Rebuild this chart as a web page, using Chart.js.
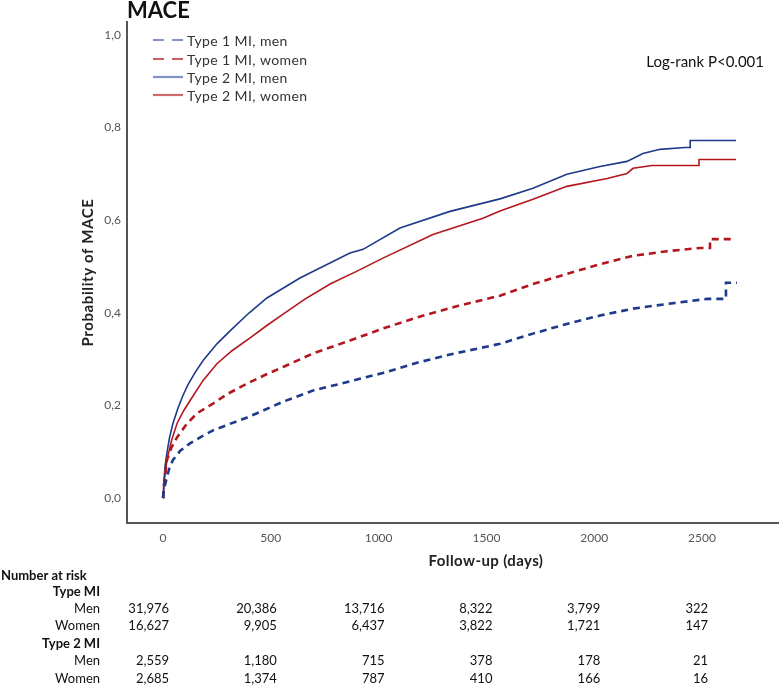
<!DOCTYPE html>
<html>
<head>
<meta charset="utf-8">
<script src="https://cdn.jsdelivr.net/npm/chart.js@4"></script>
<style>
  html, body { margin: 0; padding: 0; background: #fff; }
  #wrap { width: 779px; height: 687px; position: relative; }
</style>
</head>
<body>
<div id="wrap"><canvas id="c" width="779" height="687"></canvas></div>
<script>
// ---------------- DATA ----------------
const seriesLabels = ['Type 1 MI, men', 'Type 1 MI, women', 'Type 2 MI, men', 'Type 2 MI, women'];

const t1MenDays = [0, 5, 18, 30, 46, 80, 125, 180, 232, 310, 390, 470, 557, 696, 867, 1020, 1178, 1331, 1563, 1716, 1873, 2027, 2180, 2337, 2523, 2611, 2611, 2662];
const t1MenProb = [0, 0.02, 0.045, 0.065, 0.082, 0.102, 0.118, 0.133, 0.146, 0.16, 0.174, 0.19, 0.208, 0.232, 0.252, 0.27, 0.292, 0.31, 0.333, 0.355, 0.376, 0.394, 0.409, 0.419, 0.43, 0.43, 0.465, 0.465];

const t1WomenDays = [0, 5, 18, 40, 65, 110, 158, 232, 300, 390, 470, 557, 700, 867, 1020, 1178, 1370, 1563, 1716, 1873, 2027, 2180, 2337, 2491, 2537, 2537, 2639];
const t1WomenProb = [0, 0.03, 0.082, 0.11, 0.131, 0.16, 0.183, 0.204, 0.225, 0.247, 0.265, 0.283, 0.313, 0.34, 0.366, 0.39, 0.415, 0.437, 0.462, 0.484, 0.505, 0.523, 0.533, 0.54, 0.54, 0.559, 0.559];

const t2MenDays = [0, 3, 10, 18, 30, 46, 70, 93, 116, 150, 186, 250, 311, 400, 482, 635, 867, 928, 1099, 1331, 1563, 1716, 1873, 2027, 2152, 2226, 2305, 2421, 2445, 2445, 2658];
const t2MenProb = [0, 0.03, 0.07, 0.097, 0.13, 0.161, 0.195, 0.222, 0.245, 0.272, 0.297, 0.333, 0.361, 0.4, 0.432, 0.475, 0.529, 0.537, 0.583, 0.619, 0.646, 0.669, 0.699, 0.716, 0.727, 0.744, 0.753, 0.757, 0.757, 0.772, 0.772];

const t2WomenDays = [0, 5, 18, 40, 65, 95, 125, 186, 250, 320, 404, 480, 557, 660, 775, 900, 1020, 1252, 1484, 1563, 1716, 1873, 2060, 2152, 2180, 2268, 2486, 2486, 2658];
const t2WomenProb = [0, 0.035, 0.082, 0.125, 0.161, 0.188, 0.21, 0.254, 0.29, 0.318, 0.346, 0.372, 0.397, 0.43, 0.462, 0.49, 0.518, 0.569, 0.604, 0.62, 0.645, 0.673, 0.69, 0.701, 0.712, 0.718, 0.718, 0.731, 0.731];

const xTickValues = [0, 500, 1000, 1500, 2000, 2500];
const yTickValues = [0, 0.2, 0.4, 0.6, 0.8, 1.0];

const riskTimes = [0, 500, 1000, 1500, 2000, 2500];
const riskGroupLabels = ['Type MI', 'Type 2 MI'];
const riskRowLabels = ['Men', 'Women'];
const riskT1Men = [31976, 20386, 13716, 8322, 3799, 322];
const riskT1Women = [16627, 9905, 6437, 3822, 1721, 147];
const riskT2Men = [2559, 1180, 715, 378, 178, 21];
const riskT2Women = [2685, 1374, 787, 410, 166, 16];

const chartTitle = 'MACE';
const yTitle = 'Probability of MACE';
const xTitle = 'Follow-up (days)';
const pValueText = 'Log-rank P<0.001';
const riskHeader = 'Number at risk';

// ---------------- STYLE ----------------
const BLUE = '#1d3a8a';
const RED = '#b3161d';
const LEG_COLORS = ['#7f92c6', '#b82a2a', '#7f92c6', '#cf6a6a'];
const FONT = 'Lato, "Open Sans", sans-serif';
const TABLE_FONT = 'Lato, "Open Sans", sans-serif';

function pts(xs, ys) { return xs.map((x, i) => ({ x: x, y: ys[i] })); }

const datasets = [
  { label: seriesLabels[0], data: pts(t1MenDays, t1MenProb), borderColor: BLUE, borderWidth: 2.6, borderDash: [7, 5] },
  { label: seriesLabels[1], data: pts(t1WomenDays, t1WomenProb), borderColor: RED, borderWidth: 2.6, borderDash: [7, 5] },
  { label: seriesLabels[2], data: pts(t2MenDays, t2MenProb), borderColor: BLUE, borderWidth: 1.6 },
  { label: seriesLabels[3], data: pts(t2WomenDays, t2WomenProb), borderColor: RED, borderWidth: 1.6 }
].map(d => Object.assign({ pointRadius: 0, fill: false, tension: 0, borderCapStyle: 'butt' }, d));

const decorPlugin = {
  id: 'decor',
  afterDraw(chart) {
    const ctx = chart.ctx;
    const xs = chart.scales.x;
    const ys = chart.scales.y;
    ctx.save();
    // Title
    ctx.fillStyle = '#111';
    ctx.font = 'bold 22px ' + FONT;
    ctx.textAlign = 'left';
    ctx.textBaseline = 'alphabetic';
    ctx.fillText(chartTitle, 127, 18);

    // Legend
    ctx.textBaseline = 'middle';
    const legY = [40, 59, 77, 95];
    ctx.font = '14px ' + FONT;
    ctx.letterSpacing = '0.4px';
    for (let i = 0; i < seriesLabels.length; i++) {
      ctx.beginPath();
      ctx.strokeStyle = LEG_COLORS[i];
      ctx.lineWidth = i === 1 ? 1.5 : 2.2;
      ctx.setLineDash(i < 2 ? [11, 8] : []);
      ctx.moveTo(153, legY[i]);
      ctx.lineTo(183, legY[i]);
      ctx.stroke();
      ctx.setLineDash([]);
      ctx.fillStyle = '#333';
      ctx.fillText(seriesLabels[i], 187, legY[i] + 1);
    }
    ctx.letterSpacing = '0px';

    // p-value
    ctx.font = '15px ' + FONT;
    ctx.fillStyle = '#111';
    ctx.textAlign = 'right';
    ctx.fillText(pValueText, 764, 62);

    // Y title
    ctx.save();
    ctx.translate(88, (ys.top + ys.bottom) / 2);
    ctx.rotate(-Math.PI / 2);
    ctx.textAlign = 'center';
    ctx.font = 'bold 15px ' + FONT;
    ctx.letterSpacing = '0.6px';
    ctx.fillStyle = '#222';
    ctx.fillText(yTitle, 0, 0);
    ctx.restore();

    // X title
    ctx.font = 'bold 15px ' + FONT;
    ctx.letterSpacing = '0.4px';
    ctx.fillStyle = '#222';
    ctx.textAlign = 'center';
    ctx.fillText(xTitle, 486, 561);
    ctx.letterSpacing = '0px';

    // Risk table
    const rowsY = { header: 576, g1: 592, r1: 609, r2: 626, g2: 644, r3: 661, r4: 679 };
    const labelRight = 100;
    ctx.textAlign = 'left';
    ctx.font = 'bold 13px ' + TABLE_FONT;
    ctx.fillStyle = '#111';
    ctx.fillText(riskHeader, 1, rowsY.header);
    ctx.textAlign = 'right';
    ctx.fillText(riskGroupLabels[0], labelRight, rowsY.g1);
    ctx.fillText(riskGroupLabels[1], labelRight, rowsY.g2);
    ctx.font = '13px ' + TABLE_FONT;
    const rows = [[riskT1Men, rowsY.r1, 0], [riskT1Women, rowsY.r2, 1], [riskT2Men, rowsY.r3, 0], [riskT2Women, rowsY.r4, 1]];
    rows.forEach(([vals, y, lab]) => {
      ctx.fillText(riskRowLabels[lab], labelRight, y);
      vals.forEach((v, j) => {
        const px = xs.getPixelForValue(riskTimes[j]) + 6;
        ctx.fillText(v.toLocaleString('en-US'), px, y);
      });
    });
    ctx.restore();
  }
};

new Chart(document.getElementById('c'), {
  type: 'line',
  data: { datasets: datasets },
  options: {
    responsive: false,
    animation: false,
    layout: { padding: { top: 22, left: 0, right: 0, bottom: 0 } },
    plugins: { legend: { display: false }, tooltip: { enabled: false } },
    scales: {
      x: {
        type: 'linear',
        min: -167, max: 2857,
        afterFit(s) { s.height = 164; },
        afterBuildTicks(s) { s.ticks = xTickValues.map(v => ({ value: v })); },
        grid: { display: false, drawTicks: false },
        border: { display: true, color: '#555', width: 2 },
        ticks: { color: '#555', font: { family: FONT, size: 12 }, padding: 8, maxRotation: 0,
          callback: v => String(v) }
      },
      y: {
        type: 'linear',
        min: -0.054, max: 1.028,
        afterFit(s) { s.width = 127; },
        afterBuildTicks(s) { s.ticks = yTickValues.map(v => ({ value: v })); },
        grid: { display: false, drawTicks: false },
        border: { display: true, color: '#555', width: 2 },
        ticks: { color: '#555', font: { family: FONT, size: 12 }, padding: 6,
          callback: v => Number(v).toFixed(1).replace('.', ',') }
      }
    }
  },
  plugins: [decorPlugin]
});
</script>
</body>
</html>
